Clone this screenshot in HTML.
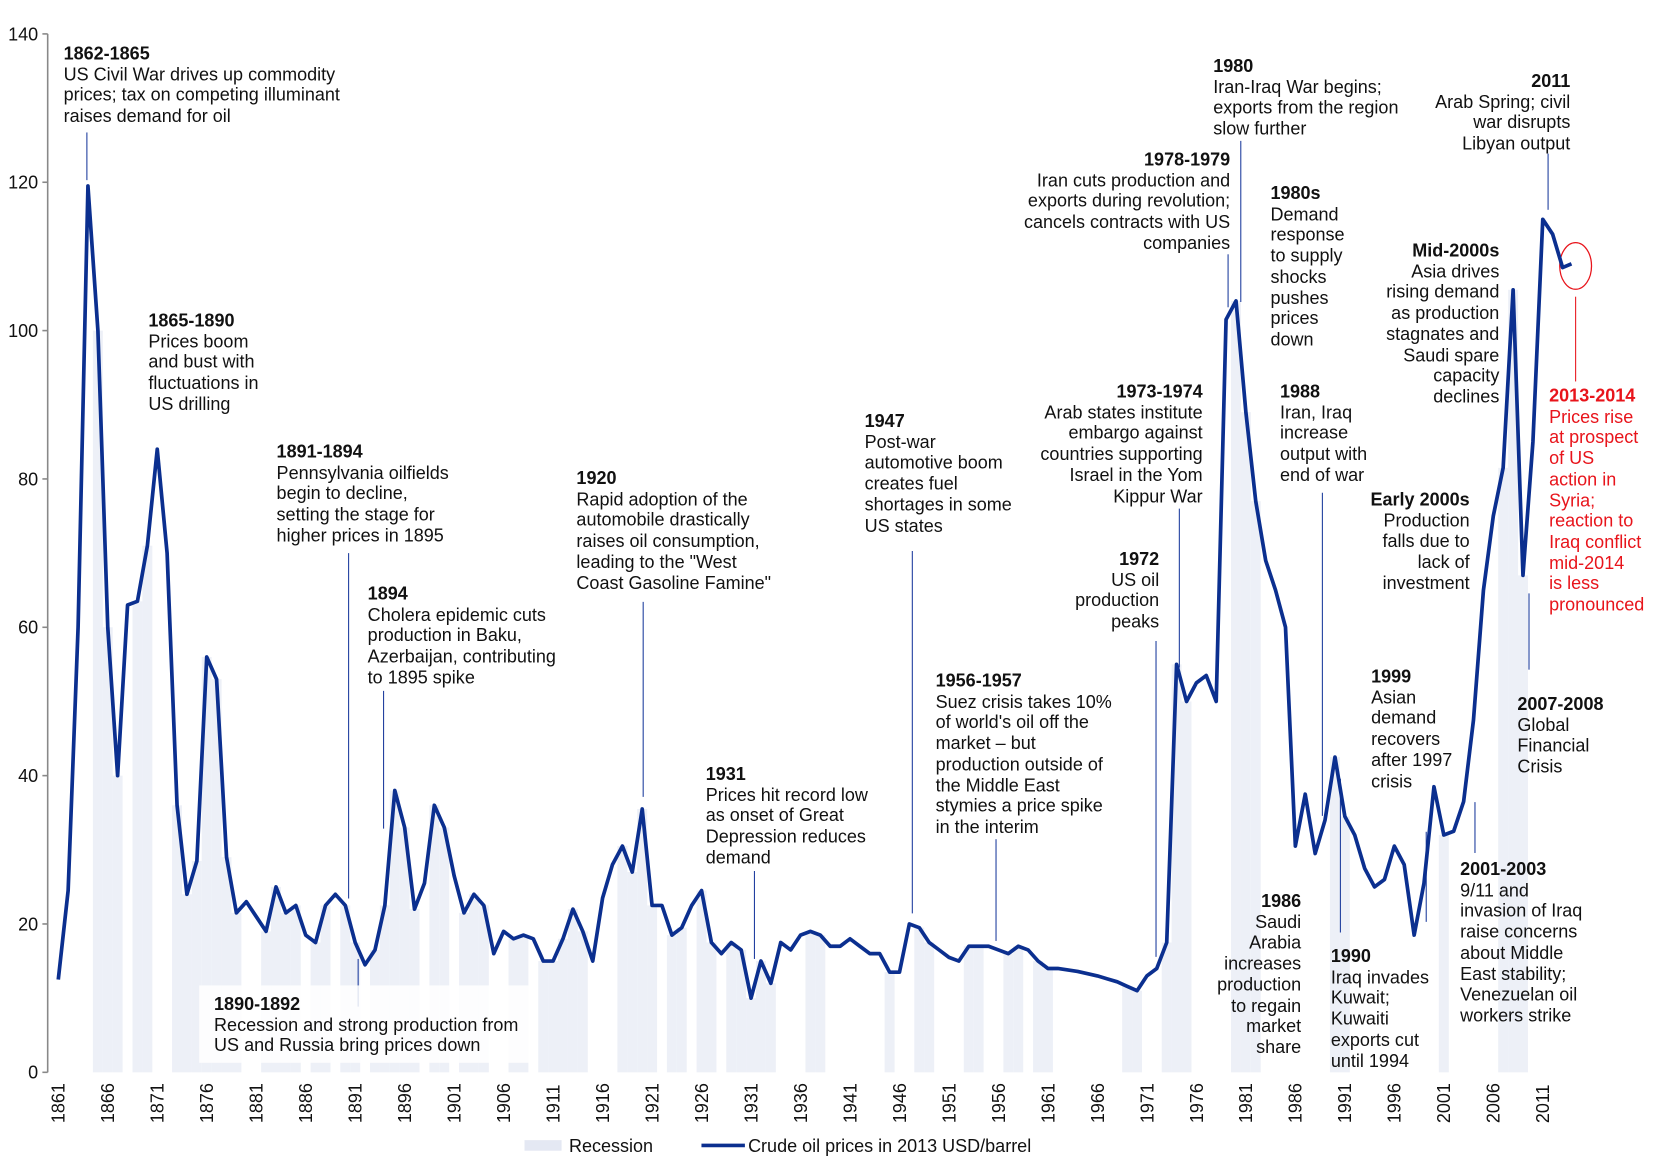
<!DOCTYPE html>
<html><head><meta charset="utf-8">
<style>
html,body{margin:0;padding:0;background:#fff;}
#wrap{position:relative;width:1560px;height:1097px;transform:scale(1.0596);transform-origin:0 0;font-family:"Liberation Sans",Arial,sans-serif;font-size:17px;color:#111;}
svg{position:absolute;left:0;top:0;}
.note{position:absolute;line-height:19.7px;white-space:nowrap;}
.note b{font-weight:bold;}
.r{text-align:right;}
.red{color:#e8141b;}
</style></head>
<body>
<div id="wrap">
<svg id="chart" width="1560" height="1097"></svg>

<div class="note" style="left:60px;top:41px"><b>1862-1865</b><br>US Civil War drives up commodity<br>prices; tax on competing illuminant<br>raises demand for oil</div>
<div class="note" style="left:140px;top:293px"><b>1865-1890</b><br>Prices boom<br>and bust with<br>fluctuations in<br>US drilling</div>
<div class="note" style="left:261px;top:417px"><b>1891-1894</b><br>Pennsylvania oilfields<br>begin to decline,<br>setting the stage for<br>higher prices in 1895</div>
<div class="note" style="left:347px;top:551px"><b>1894</b><br>Cholera epidemic cuts<br>production in Baku,<br>Azerbaijan, contributing<br>to 1895 spike</div>
<div class="note" style="left:188px;top:930px;padding:8px 10px 6px 14px;background:rgba(255,255,255,0.85)"><b>1890-1892</b><br>Recession and strong production from<br>US and Russia bring prices down</div>
<div class="note" style="left:544px;top:442px"><b>1920</b><br>Rapid adoption of the<br>automobile drastically<br>raises oil consumption,<br>leading to the "West<br>Coast Gasoline Famine"</div>
<div class="note" style="left:666px;top:721px"><b>1931</b><br>Prices hit record low<br>as onset of Great<br>Depression reduces<br>demand</div>
<div class="note" style="left:816px;top:388px"><b>1947</b><br>Post-war<br>automotive boom<br>creates fuel<br>shortages in some<br>US states</div>
<div class="note" style="left:883px;top:633px"><b>1956-1957</b><br>Suez crisis takes 10%<br>of world's oil off the<br>market – but<br>production outside of<br>the Middle East<br>stymies a price spike<br>in the interim</div>
<div class="note r" style="right:425px;top:360px"><b>1973-1974</b><br>Arab states institute<br>embargo against<br>countries supporting<br>Israel in the Yom<br>Kippur War</div>
<div class="note r" style="right:466px;top:518px"><b>1972</b><br>US oil<br>production<br>peaks</div>
<div class="note r" style="right:399px;top:141px"><b>1978-1979</b><br>Iran cuts production and<br>exports during revolution;<br>cancels contracts with US<br>companies</div>
<div class="note" style="left:1145px;top:53px"><b>1980</b><br>Iran-Iraq War begins;<br>exports from the region<br>slow further</div>
<div class="note" style="left:1199px;top:173px"><b>1980s</b><br>Demand<br>response<br>to supply<br>shocks<br>pushes<br>prices<br>down</div>
<div class="note" style="left:1208px;top:360px"><b>1988</b><br>Iran, Iraq<br>increase<br>output with<br>end of war</div>
<div class="note r" style="right:332px;top:841px"><b>1986</b><br>Saudi<br>Arabia<br>increases<br>production<br>to regain<br>market<br>share</div>
<div class="note" style="left:1256px;top:893px"><b>1990</b><br>Iraq invades<br>Kuwait;<br>Kuwaiti<br>exports cut<br>until 1994</div>
<div class="note r" style="right:173px;top:462px"><b>Early 2000s</b><br>Production<br>falls due to<br>lack of<br>investment</div>
<div class="note" style="left:1294px;top:629px"><b>1999</b><br>Asian<br>demand<br>recovers<br>after 1997<br>crisis</div>
<div class="note" style="left:1378px;top:811px"><b>2001-2003</b><br>9/11 and<br>invasion of Iraq<br>raise concerns<br>about Middle<br>East stability;<br>Venezuelan oil<br>workers strike</div>
<div class="note" style="left:1432px;top:655px"><b>2007-2008</b><br>Global<br>Financial<br>Crisis</div>
<div class="note r" style="right:145px;top:227px"><b>Mid-2000s</b><br>Asia drives<br>rising demand<br>as production<br>stagnates and<br>Saudi spare<br>capacity<br>declines</div>
<div class="note r" style="right:78px;top:67px"><b>2011</b><br>Arab Spring; civil<br>war disrupts<br>Libyan output</div>
<div class="note red" style="left:1462px;top:364px"><b>2013-2014</b><br>Prices rise<br>at prospect<br>of US<br>action in<br>Syria;<br>reaction to<br>Iraq conflict<br>mid-2014<br>is less<br>pronounced</div>
</div>
<script>
const years = [];
for (let y = 1861; y <= 2014; y++) years.push(y);
const prices = [12.5,24.5,60,119.5,100,60,40,63,63.5,71,84,70,36,24,28.5,56,53,29,21.5,23,21,19,25,21.5,22.5,18.5,17.5,22.5,24,22.5,17.5,14.5,16.5,22.5,38,33,22,25.5,36,33,26.5,21.5,24,22.5,16,19,18,18.5,18,15,15,18,22,19,15,23.5,28,30.5,27,35.5,22.5,22.5,18.5,19.5,22.5,24.5,17.5,16,17.5,16.5,10,15,12,17.5,16.5,18.5,19,18.5,17,17,18,17,16,16,13.5,13.5,20,19.5,17.5,16.5,15.5,15,17,17,17,16.5,16,17,16.5,15,14,14,13.8,13.6,13.3,13,12.6,12.2,11.6,11,13,14,17.5,55,50,52.5,53.5,50,101.5,104,89,77,69,65,60,30.5,37.5,29.5,34,42.5,34.5,32,27.5,25,26,30.5,28,18.5,25.5,38.5,32,32.5,36.5,47.5,65,75,81.5,105.5,67,85,115,113,108.5,109];
const recessionYears = [1865,1866,1867,1869,1870,1873,1874,1875,1876,1877,1878,1879,1882,1883,1884,1885,1887,1888,1890,1891,1893,1894,1895,1896,1897,1899,1900,1902,1903,1904,1907,1908,1910,1911,1912,1913,1914,1918,1919,1920,1921,1923,1924,1926,1927,1929,1930,1931,1932,1933,1937,1938,1945,1948,1949,1953,1954,1957,1958,1960,1961,1969,1970,1973,1974,1975,1980,1981,1982,1990,1991,2001,2007,2008,2009];
const yTicks = [0,20,40,60,80,100,120,140];
const xTickYears = [1861,1866,1871,1876,1881,1886,1891,1896,1901,1906,1911,1916,1921,1926,1931,1936,1941,1946,1951,1956,1961,1966,1971,1976,1981,1986,1991,1996,2001,2006,2011];

const NS = "http://www.w3.org/2000/svg";
const svg = document.getElementById('chart');
const X = yr => 55 + (yr - 1861) * 9.34;
const Y = v => 1012 - v * 7;
function mk(tag, attrs, parent) {
  const e = document.createElementNS(NS, tag);
  for (const k in attrs) e.setAttribute(k, attrs[k]);
  (parent || svg).appendChild(e);
  return e;
}
recessionYears.forEach(yr => {
  const v = prices[yr - 1861];
  const r = mk('rect', {x: X(yr) - 4.7, y: Y(v), width: 9.4, height: Y(0) - Y(v), fill: '#edf0f7'});
  
  
});
const ax = mk('line', {x1: 45, y1: 32, x2: 45, y2: 1012, stroke: '#888', 'stroke-width': 1.5});


yTicks.forEach(t => {
  mk('line', {x1: 40, y1: Y(t), x2: 45, y2: Y(t), stroke: '#888', 'stroke-width': 1.5});
  const tx = mk('text', {x: 36, y: Y(t) + 6, 'text-anchor': 'end', 'font-size': 17, fill: '#111'});
  tx.textContent = t;
  
  
});
xTickYears.forEach(yr => {
  const tx = mk('text', {transform: `translate(${X(yr) + 6},1060) rotate(-90)`, 'font-size': 17, fill: '#111'});
  tx.textContent = yr;
  
  
});
const leaders = [[82,125,170],[329,522,848],[362,652,782],[338,905,950],[607,568,752],[712,822,905],[861,520,862],[940,792,888],[1113,480,630],[1091,605,903],[1159,240,290],[1171,133,285],[1248,465,770],[1265,735,880],[1346,785,870],[1392,757,805],[1443,560,632],[1461,145,198]];
leaders.forEach(l => {
  const e = mk('line', {x1: l[0], y1: l[1], x2: l[0], y2: l[2], stroke: '#1a3a9c', 'stroke-width': 1});
  
  
});
const rl = mk('line', {x1: 1487, y1: 280, x2: 1487, y2: 360, stroke: '#e8141b', 'stroke-width': 1});


const ell = mk('ellipse', {cx: 1487, cy: 251, rx: 15, ry: 22, fill: 'none', stroke: '#e8141b', 'stroke-width': 1.2});


const pts = years.map((yr, i) => (yr === 2014 ? X(2013.9) : X(yr)).toFixed(1) + ',' + Y(prices[i]).toFixed(1)).join(' ');
const pl = mk('polyline', {points: pts, fill: 'none', stroke: '#0b2f8f', 'stroke-width': 3.5, 'stroke-linejoin': 'round'});


const lr = mk('rect', {x: 495, y: 1076, width: 35, height: 10, fill: '#e4e8f3'});


const lt1 = mk('text', {x: 537, y: 1087, 'font-size': 17, fill: '#111'});
lt1.textContent = 'Recession';


const ll = mk('line', {x1: 662, y1: 1081, x2: 703, y2: 1081, stroke: '#0b2f8f', 'stroke-width': 3.5});


const lt2 = mk('text', {x: 706, y: 1087, 'font-size': 17, fill: '#111'});
lt2.textContent = 'Crude oil prices in 2013 USD/barrel';


</script>
</body></html>
